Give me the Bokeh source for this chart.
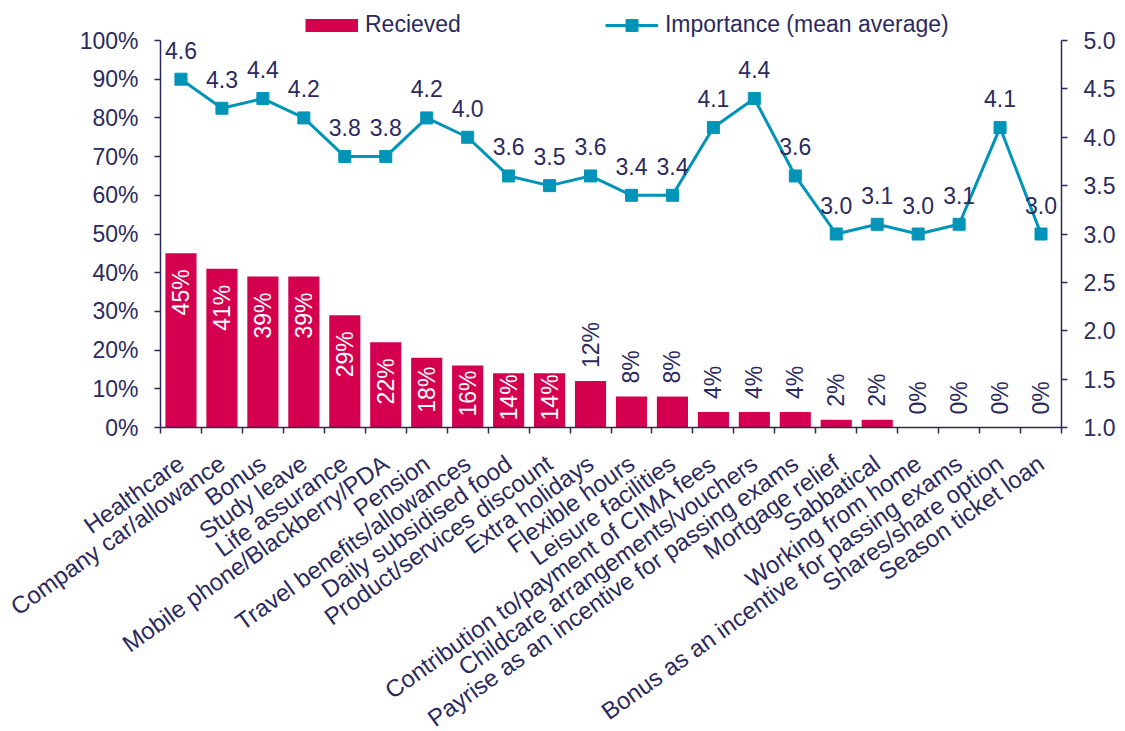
import math
from bokeh.plotting import figure
from bokeh.models import (Range1d, LinearAxis, FixedTicker, PrintfTickFormatter,
                          Legend, LegendItem, ColumnDataSource)
from bokeh.core.properties import value
from bokeh.embed import file_html
from bokeh.resources import INLINE

categories = [
    "Healthcare", "Company car/allowance", "Bonus", "Study leave", "Life assurance",
    "Mobile phone/Blackberry/PDA", "Pension", "Travel benefits/allowances",
    "Daily subsidised food", "Product/services discount", "Extra holidays",
    "Flexible hours", "Leisure facilities", "Contribution to/payment of CIMA fees",
    "Childcare arrangements/vouchers", "Payrise as an incentive for passing exams",
    "Mortgage relief", "Sabbatical", "Working from home",
    "Bonus as an incentive for passing exams", "Shares/share option", "Season ticket loan",
]
received = [45, 41, 39, 39, 29, 22, 18, 16, 14, 14, 12, 8, 8, 4, 4, 4, 2, 2, 0, 0, 0, 0]
importance = [4.6, 4.3, 4.4, 4.2, 3.8, 3.8, 4.2, 4.0, 3.6, 3.5, 3.6, 3.4, 3.4, 4.1, 4.4, 3.6,
              3.0, 3.1, 3.0, 3.1, 4.1, 3.0]
left_ticks = [0, 10, 20, 30, 40, 50, 60, 70, 80, 90, 100]
right_ticks = [1.0, 1.5, 2.0, 2.5, 3.0, 3.5, 4.0, 4.5, 5.0]

NAVY = "#2b2a5e"
BAR = "#d4004f"
LINE = "#0094b8"
FONT = "Liberation Sans"
FS = "23px"

n = len(categories)
xs = list(range(n))

# layout in pixels: the frame fills the whole figure; the plotting box (axes) sits inside it
W, H = 1122, 731
BOX_L, BOX_R = 160.0, 1061.0
BOX_T, BOX_B = 40.0, 427.0
x_per_px = n / (BOX_R - BOX_L)
x0 = -0.5 - BOX_L * x_per_px
x1 = n - 0.5 + (W - BOX_R) * x_per_px
lo = -(H - BOX_B) / (BOX_B - BOX_T)
hi = BOX_B / (BOX_B - BOX_T)

p = figure(width=W, height=H, output_backend="svg", toolbar_location=None,
           x_range=Range1d(x0, x1), y_range=Range1d(100 * lo, 100 * hi),
           min_border_left=0, min_border_right=0, min_border_top=0, min_border_bottom=0)
p.extra_y_ranges = {"imp": Range1d(1 + 4 * lo, 1 + 4 * hi)}
p.grid.visible = False
p.outline_line_color = None
p.background_fill_color = "white"

# bars
src_bar = ColumnDataSource(dict(x=xs, y=received))
bars = p.vbar(x="x", top="y", width=0.76, source=src_bar, fill_color=BAR, line_color=None)

# line
src_line = ColumnDataSource(dict(x=xs, y=importance, t=[f"{v:.1f}" for v in importance]))
ln = p.line(x="x", y="y", source=src_line, y_range_name="imp", line_color=LINE, line_width=3)
mk = p.scatter(x="x", y="y", source=src_line, y_range_name="imp", marker="square", size=12,
               fill_color=LINE, line_color=LINE)
p.text(x="x", y="y", text="t", source=src_line, y_range_name="imp", text_align="center",
       text_baseline="alphabetic", y_offset=-29, text_color=NAVY, text_font=value(FONT),
       text_font_size=FS)

# bar labels: inside the bar end when it fits, centred in short bars, above tiny bars
LABEL_PX = 48 + 16 + 7
px_per_unit = (BOX_B - BOX_T) / 100
top_in = [i for i, v in enumerate(received) if v * px_per_unit >= LABEL_PX]
mid_in = [i for i, v in enumerate(received) if 14 <= v and v * px_per_unit < LABEL_PX]
outs = [i for i, v in enumerate(received) if v < 14]

def lab_src(idx, half=False):
    return ColumnDataSource(dict(x=[xs[i] for i in idx],
                                 y=[received[i] / 2 if half else received[i] for i in idx],
                                 t=[f"{received[i]}%" for i in idx]))

p.text(x="x", y="y", text="t", source=lab_src(top_in), angle=math.pi / 2, text_align="right",
       text_baseline="middle", y_offset=16, text_color="white", text_font=value(FONT),
       text_font_size=FS)
p.text(x="x", y="y", text="t", source=lab_src(mid_in, True), angle=math.pi / 2,
       text_align="center", text_baseline="middle", y_offset=-3, text_color="white",
       text_font=value(FONT), text_font_size=FS)
p.text(x="x", y="y", text="t", source=lab_src(outs), angle=math.pi / 2, text_align="left",
       text_baseline="middle", y_offset=-13, text_color=NAVY, text_font=value(FONT),
       text_font_size=FS)

# axes
def style_axis(ax):
    ax.axis_line_color = NAVY
    ax.axis_line_width = 1.5
    ax.major_tick_line_color = NAVY
    ax.major_tick_line_width = 1.5
    ax.minor_tick_line_color = NAVY
    ax.minor_tick_line_width = 1.5
    ax.major_label_text_color = NAVY
    ax.major_label_text_font = FONT
    ax.major_label_text_font_size = FS

xa = p.xaxis[0]
style_axis(xa)
xa.fixed_location = 0
xa.bounds = (-0.5, n - 0.5)
xa.ticker = FixedTicker(ticks=xs, minor_ticks=[i - 0.5 for i in range(n + 1)])
xa.major_tick_out = 0
xa.major_tick_in = 0
xa.minor_tick_out = 6
xa.minor_tick_in = 0
xa.major_label_overrides = {i: c for i, c in enumerate(categories)}
xa.major_label_orientation = math.radians(35.5)
xa.major_label_standoff = 27
xa.major_label_text_font_size = "24px"

ya = p.yaxis[0]
style_axis(ya)
ya.fixed_location = -0.5
ya.ticker = FixedTicker(ticks=left_ticks)
ya.formatter = PrintfTickFormatter(format="%d%%")
ya.bounds = (0, 100)
ya.major_tick_out = 6
ya.major_tick_in = 0
ya.minor_tick_out = 0
ya.major_label_standoff = 16

ra = LinearAxis(y_range_name="imp", ticker=FixedTicker(ticks=right_ticks),
                formatter=PrintfTickFormatter(format="%.1f"), bounds=(1, 5),
                fixed_location=n - 0.5)
style_axis(ra)
ra.major_tick_out = 6
ra.major_tick_in = 0
ra.minor_tick_out = 0
ra.major_label_standoff = 16
p.add_layout(ra, "right")

# legend swatch for the bars: a thick butt-capped stroke in the bar colour
bar_swatch = p.line(x=[0.0], y=[float("nan")], line_color=BAR, line_width=13, line_cap="butt")

legend = Legend(items=[LegendItem(label="Recieved", renderers=[bar_swatch]),
                       LegendItem(label="Importance (mean average)", renderers=[ln, mk])],
                location=(305, H - 24.5 - 15),
                orientation="horizontal", padding=0, margin=0,
                spacing=144, glyph_width=53, glyph_height=30, label_height=24,
                label_standoff=7, border_line_color=None, background_fill_alpha=0,
                label_text_color=NAVY, label_text_font=FONT, label_text_font_size=FS)
p.add_layout(legend, "center")

open("out.html", "w").write(file_html(p, INLINE))
